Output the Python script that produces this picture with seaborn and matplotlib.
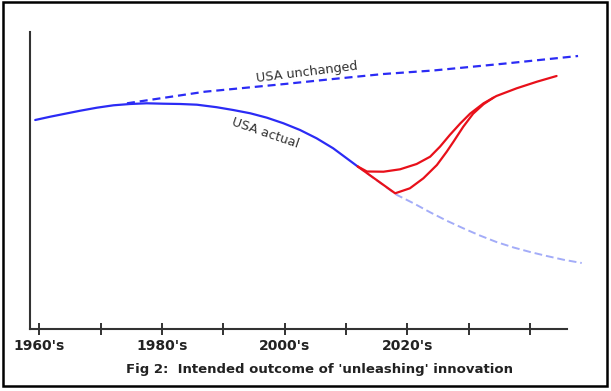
import numpy as np
import pandas as pd
import matplotlib
matplotlib.use("Agg")
import matplotlib.pyplot as plt
from matplotlib.patches import Rectangle
import seaborn as sns

sns.set_theme(style="white")
plt.rcParams["font.family"] = ["DejaVu Sans"]

# index values (arbitrary units, 0 = x axis)
actual_year = [1959.35, 1961.8, 1964.0, 1966.7, 1969.4, 1972.1, 1974.8, 1977.5, 1980.2,
               1983.0, 1985.7, 1988.9, 1991.6, 1994.4, 1997.1, 1999.8, 2002.5, 2005.2,
               2007.9, 2010.1, 2011.9]
actual_val = [209, 212.3, 215, 218.3, 221.3, 223.7, 225, 225.7, 225.3,
              225, 224.3, 221.8, 219, 215.7, 211.3, 205.7, 199, 190.7,
              180.7, 170.7, 162.5]

unchanged_year = [1974.3, 1987.0, 2000.0, 2007.4, 2016.1, 2024.2, 2036.0, 2047.8]
unchanged_val = [225.7, 237.3, 245, 249.7, 255, 258.5, 265.5, 273]

trend_year = [2011.9, 2018.3, 2021.0, 2023.7, 2026.4, 2029.1, 2031.8, 2034.5, 2037.3,
              2040.0, 2042.7, 2045.4, 2048.4]
trend_val = [162.5, 134, 125.7, 116.7, 108.3, 100.7, 93.5, 87, 81.5,
             77, 73, 69.3, 66]

upper_year = [2011.9, 2013.4, 2016.1, 2018.8, 2021.5, 2023.7, 2025.3, 2026.9, 2028.6,
              2030.2, 2032.4, 2034.5, 2037.8, 2041.1, 2044.3]
upper_val = [162.5, 157.5, 157.3, 159.7, 165, 172.3, 182.3, 194, 205.5,
             215.3, 225.7, 233, 240.7, 247.3, 253]

lower_year = [2011.9, 2018.0, 2020.4, 2022.6, 2024.8, 2026.4, 2027.5, 2029.1, 2030.7,
              2032.4, 2034.0]
lower_val = [162.5, 135.7, 140.7, 150.7, 164, 177.3, 187.3, 202.3, 215.3,
             224.8, 231.3]

tick_years = [1960, 1970, 1980, 1990, 2000, 2010, 2020, 2030, 2040]
tick_labels = ["1960's", "", "1980's", "", "2000's", "", "2020's", "", ""]

BLUE = "#2b2bf5"
LIGHT = "#a3acf8"
RED = "#e8101a"

fig = plt.figure(figsize=(6.11, 3.91), dpi=100)
ax = fig.add_axes([30 / 611, 62 / 391, 537 / 611, 297 / 391])

line_kw = dict(ax=ax, sort=False, estimator=None)
sns.lineplot(x=trend_year, y=trend_val, color=LIGHT, lw=1.4,
             linestyle=(0, (4, 2)), clip_on=False, **line_kw)
sns.lineplot(x=unchanged_year, y=unchanged_val, color=BLUE, lw=1.6,
             linestyle=(0, (3.6, 2.2)), clip_on=False, **line_kw)
sns.lineplot(x=actual_year, y=actual_val, color=BLUE, lw=1.6, **line_kw)
sns.lineplot(x=upper_year, y=upper_val, color=RED, lw=1.6, **line_kw)
sns.lineplot(x=lower_year, y=lower_val, color=RED, lw=1.6, **line_kw)

ax.set_xlim(1958.5, 2046.0)
ax.set_ylim(0, 297)
ax.set_xticks(tick_years)
ax.set_xticklabels(tick_labels, fontweight="bold", fontsize=10, color="#222222")
ax.set_yticks([])
ax.set_xlabel("")
ax.set_ylabel("")
ax.tick_params(axis="x", bottom=True, direction="inout", length=9, width=1.3,
               color="#222222", pad=3)
for side in ["top", "right"]:
    ax.spines[side].set_visible(False)
for side in ["left", "bottom"]:
    ax.spines[side].set_color("#333333")
    ax.spines[side].set_linewidth(1.5)

ax.text(2003.6, 257, "USA unchanged", rotation=7, ha="center", va="center",
        fontsize=9.2, color="#333333")
ax.text(1996.8, 196, "USA actual", rotation=-19, ha="center", va="center",
        fontsize=9.2, color="#333333")

fig.text(320 / 611, 1 - 370 / 391, "Fig 2:  Intended outcome of 'unleashing' innovation",
         ha="center", va="center", fontsize=9.5, fontweight="bold", color="#222222")

fig.patches.append(Rectangle((3 / 611, 5 / 391), 604 / 611, 384 / 391,
                             transform=fig.transFigure, fill=False,
                             edgecolor="black", lw=1.8))

fig.savefig("out.png", dpi=100)
